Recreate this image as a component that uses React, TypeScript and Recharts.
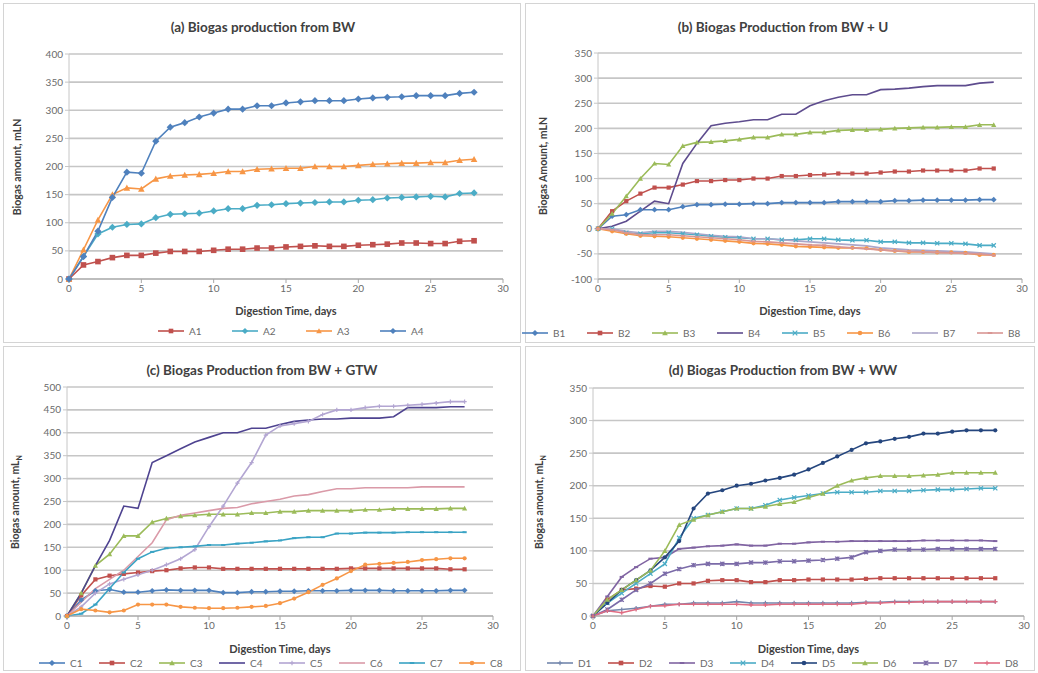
import React from 'react';
import { LineChart, Line, XAxis, YAxis, CartesianGrid } from 'recharts';

// ---------- data ----------
const days = [0,1,2,3,4,5,6,7,8,9,10,11,12,13,14,15,16,17,18,19,20,21,22,23,24,25,26,27,28];
const xTicks = [0,5,10,15,20,25,30];

const A1 = [0,25,31,38,42,42,46,49,49,49,51,53,53,55,55,57,58,59,58,58,60,61,62,64,64,63,63,67,68];
const A2 = [0,40,80,92,97,98,109,115,116,117,121,125,125,131,132,134,135,136,137,137,140,141,144,145,146,147,146,152,153];
const A3 = [0,52,105,150,162,160,178,183,185,186,188,191,191,195,196,197,197,200,200,200,202,204,205,206,206,207,207,211,213];
const A4 = [0,40,85,145,190,188,245,270,278,288,295,302,302,308,308,313,315,317,317,317,320,322,323,324,326,326,326,330,332];

const B1 = [0,25,28,38,38,38,44,48,48,49,49,50,50,52,52,52,52,54,54,54,54,56,56,57,57,57,57,58,58];
const B2 = [0,35,55,70,82,82,88,95,95,97,97,100,100,105,105,107,108,110,110,110,112,114,114,116,116,116,116,120,120];
const B3 = [0,30,65,100,130,128,165,172,173,175,178,182,182,188,188,192,192,196,197,197,198,200,201,202,202,203,203,207,207];
const B4 = [0,5,15,35,55,50,130,170,205,210,213,217,217,228,228,245,255,262,267,267,277,278,280,283,285,285,285,290,292];
const B5 = [0,0,-8,-10,-8,-8,-10,-12,-15,-17,-18,-20,-20,-22,-22,-20,-20,-22,-23,-23,-26,-26,-28,-28,-29,-29,-30,-33,-33];
const B6 = [0,-5,-10,-14,-15,-16,-18,-20,-22,-24,-26,-29,-30,-32,-35,-36,-37,-38,-38,-39,-42,-44,-46,-46,-47,-47,-48,-52,-52];
const B7 = [0,0,-5,-8,-5,-5,-7,-10,-13,-15,-16,-20,-20,-22,-24,-26,-28,-30,-32,-34,-38,-40,-42,-43,-44,-45,-46,-48,-50];
const B8 = [0,-2,-8,-12,-12,-12,-14,-16,-18,-20,-22,-25,-26,-28,-30,-32,-33,-36,-38,-40,-42,-44,-45,-46,-47,-48,-49,-50,-53];

const C1 = [0,35,55,58,52,52,55,57,56,56,56,51,51,53,53,54,54,55,55,55,56,56,56,55,55,55,55,56,56];
const C2 = [0,45,80,88,92,95,98,100,104,106,106,103,103,103,103,103,103,103,103,103,104,104,104,104,104,104,104,102,102];
const C3 = [0,50,110,135,175,175,205,213,218,220,222,222,222,225,225,228,228,230,230,230,230,232,232,234,234,234,234,235,235];
const C4 = [0,50,110,165,240,235,335,350,365,380,390,400,400,410,410,418,425,428,430,430,432,432,432,435,455,455,455,457,457];
const C5 = [0,20,50,70,80,90,100,112,125,145,195,240,290,335,395,415,420,425,440,450,450,455,458,458,460,462,465,468,468];
const C6 = [0,30,60,80,100,130,160,210,220,225,230,235,237,245,250,255,262,265,272,278,278,280,280,280,280,282,282,282,282];
const C7 = [0,5,25,60,95,125,140,148,150,152,155,155,158,160,163,165,170,172,172,180,180,182,182,182,183,183,183,183,183];
const C8 = [0,15,12,8,12,25,25,25,20,18,17,17,18,20,22,28,38,52,68,82,98,112,114,116,118,122,124,126,126];

const D1 = [0,8,10,12,15,18,18,20,20,20,22,20,20,20,20,20,20,20,20,21,21,22,22,22,22,22,22,22,22];
const D2 = [0,25,40,42,46,45,50,50,54,55,55,52,52,55,55,56,56,56,56,57,58,58,58,58,58,58,58,58,58];
const D3 = [0,30,60,75,88,90,103,105,107,108,110,108,108,111,111,113,114,114,115,115,115,115,115,116,116,116,116,116,115];
const D4 = [0,20,35,50,65,80,120,150,155,160,165,165,170,178,182,185,188,190,190,190,192,192,192,193,194,194,195,196,196];
const D5 = [0,20,40,55,70,90,115,165,188,193,200,203,208,212,217,225,235,245,255,265,268,272,275,280,280,283,285,285,285];
const D6 = [0,25,40,55,70,100,140,148,155,160,165,165,168,172,175,182,188,200,208,212,215,215,215,216,217,220,220,220,220];
const D7 = [0,10,25,40,50,65,72,78,80,80,80,82,82,84,84,85,86,88,90,98,100,102,102,102,103,103,103,103,103];
const D8 = [0,8,5,10,15,16,18,18,18,18,18,17,17,18,18,18,18,18,18,20,20,21,21,22,22,22,22,22,22];

const ticksA = [0,50,100,150,200,250,300,350,400];
const ticksB = [-100,-50,0,50,100,150,200,250,300,350];
const ticksC = [0,50,100,150,200,250,300,350,400,450,500];
const ticksD = [0,50,100,150,200,250,300,350];

type Series = { name: string; values: number[]; color: string; marker: string };

const seriesA: Series[] = [
  { name: 'A1', values: A1, color: '#C0504D', marker: 'square' },
  { name: 'A2', values: A2, color: '#4BACC6', marker: 'diamond' },
  { name: 'A3', values: A3, color: '#F79646', marker: 'triangle' },
  { name: 'A4', values: A4, color: '#4F81BD', marker: 'diamond' },
];
const seriesB: Series[] = [
  { name: 'B1', values: B1, color: '#4F81BD', marker: 'diamond' },
  { name: 'B2', values: B2, color: '#C0504D', marker: 'square' },
  { name: 'B3', values: B3, color: '#9BBB59', marker: 'triangle' },
  { name: 'B4', values: B4, color: '#5E4C8E', marker: 'none' },
  { name: 'B5', values: B5, color: '#4BACC6', marker: 'x' },
  { name: 'B6', values: B6, color: '#F79646', marker: 'circle' },
  { name: 'B7', values: B7, color: '#ABA6C9', marker: 'none' },
  { name: 'B8', values: B8, color: '#D99694', marker: 'dash' },
];
const seriesC: Series[] = [
  { name: 'C1', values: C1, color: '#4F81BD', marker: 'diamond' },
  { name: 'C2', values: C2, color: '#C0504D', marker: 'square' },
  { name: 'C3', values: C3, color: '#9BBB59', marker: 'triangle' },
  { name: 'C4', values: C4, color: '#4E4390', marker: 'none' },
  { name: 'C5', values: C5, color: '#B3A6D2', marker: 'plus' },
  { name: 'C6', values: C6, color: '#DA9AA8', marker: 'none' },
  { name: 'C7', values: C7, color: '#3AA3C4', marker: 'dash' },
  { name: 'C8', values: C8, color: '#F79646', marker: 'circle' },
];
const seriesD: Series[] = [
  { name: 'D1', values: D1, color: '#7487AD', marker: 'plus' },
  { name: 'D2', values: D2, color: '#C0504D', marker: 'square' },
  { name: 'D3', values: D3, color: '#8064A2', marker: 'dash' },
  { name: 'D4', values: D4, color: '#4BACC6', marker: 'x' },
  { name: 'D5', values: D5, color: '#25467E', marker: 'circle' },
  { name: 'D6', values: D6, color: '#9BBB59', marker: 'triangle' },
  { name: 'D7', values: D7, color: '#7B6BA8', marker: 'star' },
  { name: 'D8', values: D8, color: '#E06C82', marker: 'plus' },
];

// ---------- helpers ----------
const FONT = "Lato, 'Liberation Sans', Arial, sans-serif";

function buildRows(series: Series[]) {
  return days.map((d, i) => {
    const row: Record<string, number> = { day: d };
    series.forEach((s) => { row[s.name] = s.values[i]; });
    return row;
  });
}

function MarkerShape({ shape, color, cx, cy, s = 2.8 }: { shape: string; color: string; cx: number; cy: number; s?: number }) {
  switch (shape) {
    case 'square':
      return <rect x={cx - s} y={cy - s} width={2 * s} height={2 * s} fill={color} />;
    case 'diamond':
      return <polygon points={`${cx},${cy - s - 0.8} ${cx + s + 0.8},${cy} ${cx},${cy + s + 0.8} ${cx - s - 0.8},${cy}`} fill={color} />;
    case 'triangle':
      return <polygon points={`${cx},${cy - s - 0.5} ${cx + s + 0.5},${cy + s} ${cx - s - 0.5},${cy + s}`} fill={color} />;
    case 'circle':
      return <circle cx={cx} cy={cy} r={s} fill={color} />;
    case 'x':
      return <path d={`M${cx - s},${cy - s}L${cx + s},${cy + s}M${cx - s},${cy + s}L${cx + s},${cy - s}`} stroke={color} strokeWidth={1.2} />;
    case 'star':
      return <path d={`M${cx - s},${cy - s}L${cx + s},${cy + s}M${cx - s},${cy + s}L${cx + s},${cy - s}M${cx},${cy - s}L${cx},${cy + s}`} stroke={color} strokeWidth={1.2} />;
    case 'plus':
      return <path d={`M${cx - s},${cy}L${cx + s},${cy}M${cx},${cy - s}L${cx},${cy + s}`} stroke={color} strokeWidth={1.2} />;
    case 'dash':
      return <path d={`M${cx - s},${cy}L${cx + s},${cy}`} stroke={color} strokeWidth={2} />;
    default:
      return null;
  }
}

type PanelCfg = {
  box: { left: number; top: number; width: number; height: number };
  plot: { left: number; top: number; right: number; bottom: number };
  yDomain: [number, number];
  yTicks: number[];
  series: Series[];
  markerSize: number;
  title: string;
  titleX: number; titleY: number;
  yLabel: React.ReactNode; yLabelX: number;
  xLabelY: number;
  legendLeft: number; legendY: number; legendItemW: number;
};

const YW = 36;
const XH = 20;

function Panel({ cfg }: { cfg: PanelCfg }) {
  const { box, plot } = cfg;
  const rows = buildRows(cfg.series);
  const margin = {
    top: plot.top - box.top,
    left: plot.left - box.left - YW,
    right: box.left + box.width - plot.right,
    bottom: box.top + box.height - plot.bottom - XH,
  };
  const plotCx = (plot.left + plot.right) / 2;
  const plotCy = (plot.top + plot.bottom) / 2;
  return (
    <>
      <div style={{ position: 'absolute', left: box.left, top: box.top, width: box.width - 2, height: box.height - 2, border: '1px solid #d4d4d4' }} />
      <div style={{ position: 'absolute', left: box.left, top: box.top }}>
        <LineChart width={box.width} height={box.height} data={rows} margin={margin}>
          <CartesianGrid horizontal vertical={false} stroke="#c6c6c6" strokeWidth={1.6} />
          <XAxis
            dataKey="day" type="number" domain={[0, 30]} ticks={xTicks} height={XH}
            tick={{ fontSize: 10, fill: '#6a6a6a', fontFamily: FONT }}
            axisLine={{ stroke: '#a6a6a6' }} tickLine={{ stroke: '#a6a6a6' }} tickSize={4}
          />
          <YAxis
            type="number" domain={cfg.yDomain} ticks={cfg.yTicks} width={YW} interval={0}
            tick={{ fontSize: 10, fill: '#6a6a6a', fontFamily: FONT }}
            axisLine={{ stroke: '#c6c6c6' }} tickLine={{ stroke: '#c6c6c6' }} tickSize={4}
          />
          {cfg.series.map((s) => (
            <Line
              key={s.name} dataKey={s.name} type="linear" stroke={s.color} strokeWidth={1.6}
              isAnimationActive={false} activeDot={false}
              dot={s.marker === 'none' ? false : (p: any) => {
                if (p.cx == null || p.cy == null) return <g key={`${s.name}-${p.index}`} />;
                return (
                  <g key={`${s.name}-${p.index}`}>
                    <MarkerShape shape={s.marker} color={s.color} cx={p.cx} cy={p.cy} s={cfg.markerSize} />
                  </g>
                );
              }}
            />
          ))}
        </LineChart>
      </div>
      <div style={{ position: 'absolute', left: cfg.titleX, top: cfg.titleY, transform: 'translate(-50%,-50%)', fontFamily: FONT, fontWeight: 700, fontSize: 13.5, color: '#404040', whiteSpace: 'nowrap' }}>
        {cfg.title}
      </div>
      <div style={{ position: 'absolute', left: cfg.yLabelX, top: plotCy, transform: 'translate(-50%,-50%) rotate(-90deg)', fontFamily: FONT, fontWeight: 700, fontSize: 10.5, color: '#404040', whiteSpace: 'nowrap' }}>
        {cfg.yLabel}
      </div>
      <div style={{ position: 'absolute', left: plotCx, top: cfg.xLabelY, transform: 'translate(-50%,-50%)', fontFamily: FONT, fontWeight: 700, fontSize: 11, color: '#404040', whiteSpace: 'nowrap' }}>
        Digestion Time, days
      </div>
      <div style={{ position: 'absolute', left: cfg.legendLeft, top: cfg.legendY, transform: 'translateY(-50%)', display: 'flex', fontFamily: FONT, fontSize: 10, color: '#6a6a6a' }}>
        {cfg.series.map((s) => (
          <div key={s.name} style={{ width: cfg.legendItemW, display: 'flex', alignItems: 'center' }}>
            <svg width={30} height={10} style={{ marginRight: 3 }}>
              <line x1={2} y1={5} x2={28} y2={5} stroke={s.color} strokeWidth={1.6} />
              <MarkerShape shape={s.marker} color={s.color} cx={15} cy={5} s={2.3} />
            </svg>
            <span>{s.name}</span>
          </div>
        ))}
      </div>
    </>
  );
}

const panels: PanelCfg[] = [
  {
    box: { left: 3, top: 3, width: 518, height: 340 },
    plot: { left: 69, top: 54, right: 503, bottom: 279 },
    yDomain: [0, 400], yTicks: ticksA, series: seriesA, markerSize: 2.8,
    title: '(a) Biogas production from BW', titleX: 263, titleY: 27,
    yLabel: 'Biogas amount, mLN', yLabelX: 17, xLabelY: 310,
    legendLeft: 156, legendY: 331, legendItemW: 74,
  },
  {
    box: { left: 525, top: 3, width: 510, height: 340 },
    plot: { left: 598, top: 53, right: 1022, bottom: 279 },
    yDomain: [-100, 350], yTicks: ticksB, series: seriesB, markerSize: 2.1,
    title: '(b) Biogas Production from BW + U', titleX: 783, titleY: 27,
    yLabel: 'Biogas Amount, mLN', yLabelX: 543, xLabelY: 310,
    legendLeft: 520, legendY: 333, legendItemW: 65,
  },
  {
    box: { left: 3, top: 346, width: 518, height: 325 },
    plot: { left: 67, top: 387, right: 493, bottom: 616 },
    yDomain: [0, 500], yTicks: ticksC, series: seriesC, markerSize: 2.1,
    title: '(c) Biogas Production from BW + GTW', titleX: 262, titleY: 370,
    yLabel: <span>Biogas amount, mL<sub style={{ fontSize: 7 }}>N</sub></span>, yLabelX: 16, xLabelY: 648,
    legendLeft: 37, legendY: 663, legendItemW: 60,
  },
  {
    box: { left: 525, top: 346, width: 510, height: 325 },
    plot: { left: 593, top: 388, right: 1024, bottom: 616 },
    yDomain: [0, 350], yTicks: ticksD, series: seriesD, markerSize: 2.1,
    title: '(d) Biogas Production from BW + WW', titleX: 783, titleY: 370,
    yLabel: <span>Biogas amount, mL<sub style={{ fontSize: 7 }}>N</sub></span>, yLabelX: 540, xLabelY: 648,
    legendLeft: 545, legendY: 663, legendItemW: 61,
  },
];

export default function App() {
  return (
    <div style={{ position: 'absolute', left: 0, top: 0, width: 1038, height: 673, background: '#ffffff', overflow: 'hidden' }}>
      {panels.map((cfg, i) => <Panel key={i} cfg={cfg} />)}
    </div>
  );
}
